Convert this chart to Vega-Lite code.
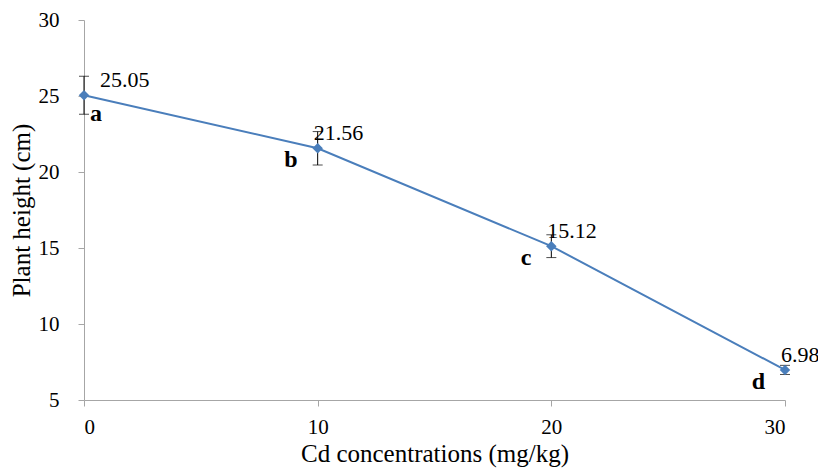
{
  "$schema": "https://vega.github.io/schema/vega-lite/v6.json",
  "width": 701,
  "height": 380,
  "autosize": "none",
  "padding": {"left": 84, "top": 20, "right": 33, "bottom": 72},
  "background": "white",
  "config": {
    "view": {"stroke": null},
    "font": "Times New Roman, Liberation Serif, DejaVu Serif, serif",
    "text": {"font": "Times New Roman, Liberation Serif, DejaVu Serif, serif", "color": "#000"},
    "axis": {"grid": false, "domainColor": "#a6a6a6", "tickColor": "#a6a6a6", "labelFont": "Times New Roman, Liberation Serif, DejaVu Serif, serif", "titleFont": "Times New Roman, Liberation Serif, DejaVu Serif, serif", "labelFontSize": 21, "titleFontSize": 25, "labelColor": "#000", "titleColor": "#000", "titleFontWeight": "normal", "tickSize": 6}
  },
  "data": {"values": [
    {"cd": 0, "height": 25.05, "err": 1.25, "letter": "a", "label": "25.05"},
    {"cd": 10, "height": 21.56, "err": 1.1, "letter": "b", "label": "21.56"},
    {"cd": 20, "height": 15.12, "err": 0.75, "letter": "c", "label": "15.12"},
    {"cd": 30, "height": 6.98, "err": 0.3, "letter": "d", "label": "6.98"}
  ]},
  "transform": [
    {"calculate": "datum.height - datum.err", "as": "lo"},
    {"calculate": "datum.height + datum.err", "as": "hi"}
  ],
  "encoding": {
    "x": {"field": "cd", "type": "quantitative", "scale": {"domain": [0, 30], "nice": false}, "axis": {"values": [0, 10, 20, 30], "title": "Cd concentrations (mg/kg)", "labelPadding": 10, "titlePadding": 4}},
    "y": {"field": "height", "type": "quantitative", "scale": {"domain": [5, 30], "nice": false, "zero": false}, "axis": {"values": [5, 10, 15, 20, 25, 30], "title": "Plant height (cm)", "labelPadding": 19, "titlePadding": 4}}
  },
  "layer": [
    {"mark": {"type": "rule", "color": "#000", "strokeWidth": 1}, "encoding": {"y": {"field": "lo", "type": "quantitative"}, "y2": {"field": "hi"}}},
    {"mark": {"type": "tick", "orient": "horizontal", "color": "#000", "size": 10, "thickness": 1}, "encoding": {"y": {"field": "lo", "type": "quantitative"}}},
    {"mark": {"type": "tick", "orient": "horizontal", "color": "#000", "size": 10, "thickness": 1}, "encoding": {"y": {"field": "hi", "type": "quantitative"}}},
    {"mark": {"type": "line", "color": "#4a7ebb", "strokeWidth": 2}},
    {"mark": {"type": "point", "shape": "diamond", "filled": true, "color": "#4a7ebb", "size": 110, "opacity": 1}},
    {"transform": [{"filter": "datum.cd == 0"}], "mark": {"type": "text", "align": "left", "baseline": "alphabetic", "dx": 16, "dy": -8, "fontSize": 22}, "encoding": {"text": {"field": "label"}}},
    {"transform": [{"filter": "datum.cd != 0"}], "mark": {"type": "text", "align": "left", "baseline": "alphabetic", "dx": -4, "dy": -8, "fontSize": 22}, "encoding": {"text": {"field": "label"}}},
    {"transform": [{"filter": "datum.cd == 0"}], "mark": {"type": "text", "align": "left", "baseline": "alphabetic", "dx": 6, "dy": 26, "fontSize": 24, "fontWeight": "bold"}, "encoding": {"text": {"field": "letter"}}},
    {"transform": [{"filter": "datum.cd != 0"}], "mark": {"type": "text", "align": "right", "baseline": "alphabetic", "dx": -20, "dy": 19, "fontSize": 24, "fontWeight": "bold"}, "encoding": {"text": {"field": "letter"}}}
  ]
}
